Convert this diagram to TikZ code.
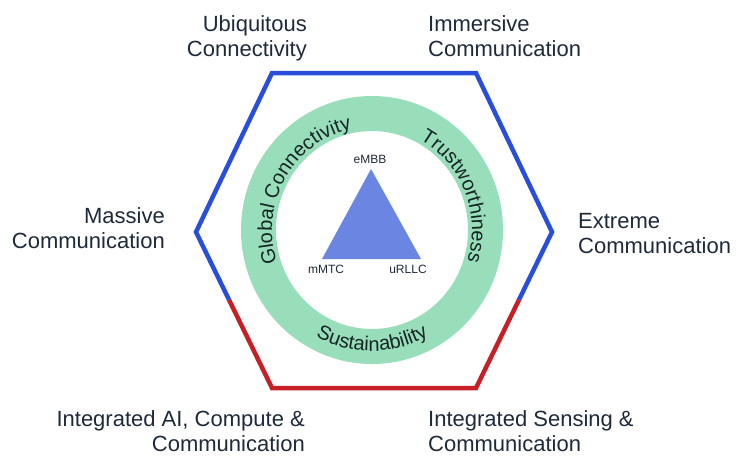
\documentclass[tikz,border=0pt]{standalone}
\usepackage{fontspec}
\setmainfont{Liberation Sans}
\usetikzlibrary{decorations.text,calc}

\definecolor{hexblue}{RGB}{42,78,220}
\definecolor{hexred}{RGB}{198,32,38}
\definecolor{ringgreen}{RGB}{152,222,186}
\definecolor{triblue}{RGB}{106,134,226}
\definecolor{labeltext}{RGB}{30,42,58}
\definecolor{ringtext}{RGB}{22,36,36}

\newcommand\ringfont{\fontsize{20}{22}\selectfont}

\begin{document}
\begin{tikzpicture}[x=1pt,y=1pt,
  edge/.style={line width=4.5pt, line join=miter},
  outer label/.style={inner sep=0pt, text=labeltext, font=\fontsize{22}{25}\selectfont},
  corner label/.style={inner sep=0pt, text=labeltext, font=\fontsize{12}{13}\selectfont},
  ring text/.style={decorate, decoration={text along path, text align=center,
      text color=ringtext, text={#1}}}
]
\useasboundingbox (0,0) rectangle (737,-456);

% green ring
\coordinate (C) at (372,-230);
\fill[ringgreen, even odd rule]
  (C) ellipse [x radius=131, y radius=134]
  (C) ellipse [x radius=96, y radius=99];

% curved ring captions
\path[ring text={|\ringfont|Global Connectivity}]
  ([shift={(200:100 and 103)}]C) arc[start angle=200, end angle=100, x radius=100, y radius=103];
\path[ring text={|\ringfont|Trustworthiness}]
  ([shift={(72:100 and 103)}]C) arc[start angle=72, end angle=-28, x radius=100, y radius=103];
\path[ring text={|\ringfont|Sustainability}]
  ([shift={(225:118 and 121)}]C) arc[start angle=225, end angle=315, x radius=118, y radius=121];

% service triangle
\coordinate (tA) at (371,-169);
\coordinate (tB) at (322,-259);
\coordinate (tC) at (421,-259);
\fill[triblue] (tA) -- (tB) -- (tC) -- cycle;
\node[corner label, anchor=base] (embb) at (370,-163.3) {eMBB};
\node[corner label, anchor=base] (mmtc) at (326,-273.3) {mMTC};
\node[corner label, anchor=base] (urllc) at (408,-273.3) {uRLLC};

% hexagon frame
\coordinate (hTL) at (272,-73);
\coordinate (hTR) at (476,-73);
\coordinate (hR)  at (552,-232);
\coordinate (hBR) at (476,-388);
\coordinate (hBL) at (272,-388);
\coordinate (hL)  at (196,-232);
\coordinate (sL) at ($(hL)!0.436!(hBL)$);
\coordinate (sR) at ($(hR)!0.436!(hBR)$);
\draw[edge, hexblue] (sL) -- (hL) -- (hTL) -- (hTR) -- (hR) -- (sR);
\draw[edge, hexred] (sL) -- (hBL) -- (hBR) -- (sR);

% outer captions (anchored on the baseline of their last line)
\node[outer label, anchor=base east, align=right] (ubi) at (307,-56.7) {Ubiquitous\\Connectivity};
\node[outer label, anchor=base west, align=left] (imm) at (428,-56.7) {Immersive\\Communication};
\node[outer label, anchor=base east, align=right] (mas) at (165,-248.3) {Massive\\Communication};
\node[outer label, anchor=base west, align=left] (ext) at (578,-253.7) {Extreme\\Communication};
\node[outer label, anchor=base east, align=right] (iac) at (305,-451.7) {Integrated AI, Compute \&\\Communication};
\node[outer label, anchor=base west, align=left] (isc) at (428,-451.7) {Integrated Sensing \&\\Communication};
\end{tikzpicture}
\end{document}
